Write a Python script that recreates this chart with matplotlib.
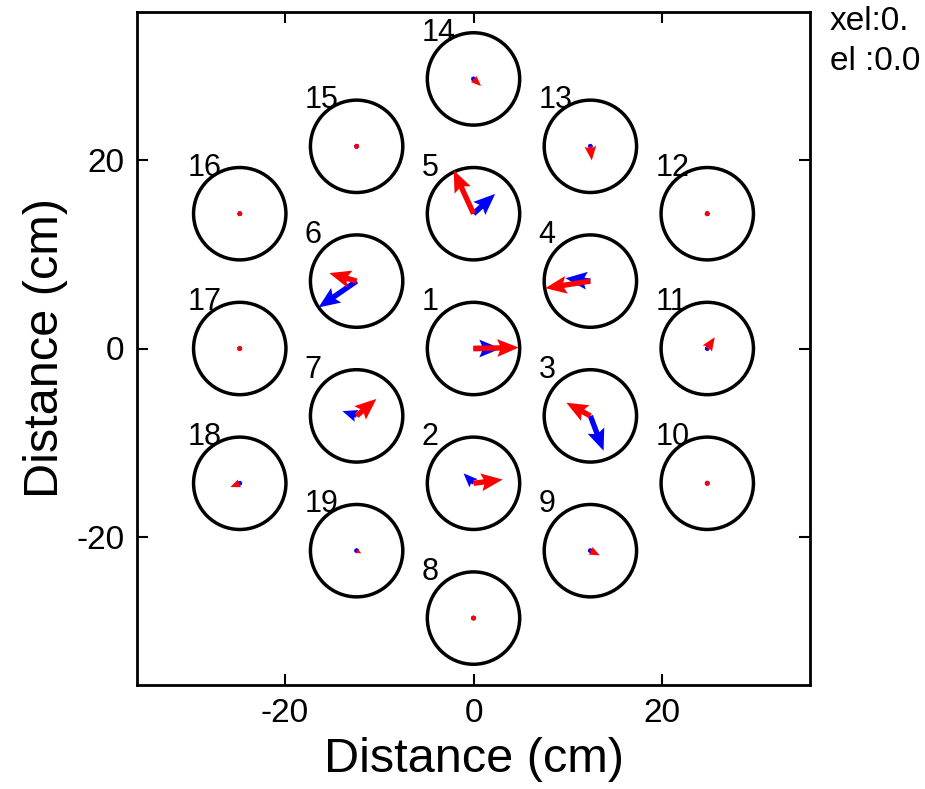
import numpy as np
import matplotlib
matplotlib.use('Agg')
import matplotlib.pyplot as plt
from matplotlib.patches import Circle

plt.rcParams['font.family'] = ['Liberation Sans', 'DejaVu Sans']
plt.rcParams['axes.unicode_minus'] = False

# detector positions (cm)
det_id = list(range(1, 20))
det_x = [0, 0, 12.4, 12.4, 0, -12.4, -12.4, 0, 12.4, 24.8,
         24.8, 24.8, 12.4, 0, -12.4, -24.8, -24.8, -24.8, -12.4]
det_y = [0, -14.3, -7.15, 7.15, 14.3, 7.15, -7.15, -28.6, -21.45, -14.3,
         0, 14.3, 21.45, 28.6, 21.45, 14.3, 0, -14.3, -21.45]
det_r = 4.9

# blue / red vectors for each detector
blue_u = [2.9, -1.05, 1.4, -2.65, 2.3, -4.05, -1.5, 0.2, 0.3, -0.2,
          -0.3, -0.2, 0.1, -0.3, -0.4, 0.1, -0.2, -0.3, 0.2]
blue_v = [0.0, 1.05, -3.7, 0.3, 2.1, -2.8, 0.5, 0.1, 0.1, 0.1,
          0.2, 0.2, 0.3, 0.2, 0.1, 0.2, 0.1, -0.1, 0.1]
red_u = [4.8, 3.1, -2.55, -4.8, -2.1, -2.9, 2.1, 0.3, 1.0, -0.3,
         0.8, -0.3, 0.15, 0.8, -0.5, 0.2, -0.3, -1.0, 0.5]
red_v = [0.1, 0.4, 1.4, -0.75, 4.6, 0.85, 1.8, 0.2, -0.5, 0.3,
         1.2, 0.4, -1.5, -0.75, 0.1, 0.4, 0.1, -0.4, -0.3]

fig = plt.figure(figsize=(9.25, 7.89), dpi=100)
ax = fig.add_axes([137 / 925, 104 / 789, 673 / 925, 673 / 789])

for i in range(len(det_id)):
    ax.add_patch(Circle((det_x[i], det_y[i]), det_r, fill=False,
                        edgecolor='black', linewidth=2.5))
    ax.text(det_x[i] - 5.5, det_y[i] + 4.9, str(det_id[i]),
            fontsize=22, ha='left', va='center')

qkw = dict(angles='xy', scale_units='xy', scale=1, width=0.008,
           headwidth=3.3, headlength=4, headaxislength=3.5)
ax.quiver(det_x, det_y, blue_u, blue_v, color='#0000ff', **qkw)
ax.quiver(det_x, det_y, red_u, red_v, color='#ff0000', **qkw)

ax.set_xlim(-35.7, 35.7)
ax.set_ylim(-35.7, 35.7)
ax.set_xticks([-20, 0, 20])
ax.set_yticks([-20, 0, 20])
ax.tick_params(direction='in', length=8, width=1.5, labelsize=24,
               top=True, right=True, pad=9)
for s in ax.spines.values():
    s.set_linewidth(2)

ax.set_xlabel('Distance (cm)', fontsize=35, labelpad=6)
ax.set_ylabel('Distance (cm)', fontsize=35, labelpad=6)

fig.text(830 / 925, 1 - 22 / 789, 'xel:0.', fontsize=24, va='center', ha='left')
fig.text(830 / 925, 1 - 62 / 789, 'el :0.0', fontsize=24, va='center', ha='left')

fig.savefig('out.png', dpi=100)
